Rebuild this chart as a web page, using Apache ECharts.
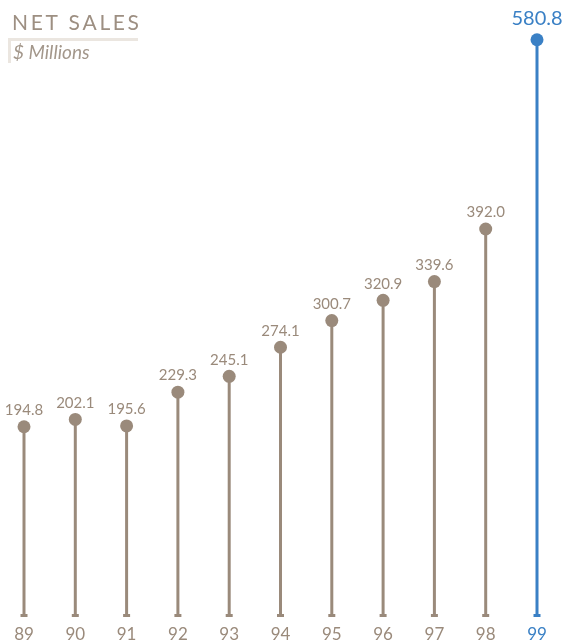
<!DOCTYPE html>
<html>
<head>
<meta charset="utf-8">
<style>
  html, body { margin: 0; padding: 0; background: #ffffff; }
  #chart { width: 567px; height: 643px; }
</style>
<script src="https://cdn.jsdelivr.net/npm/echarts@6/dist/echarts.min.js"></script>
</head>
<body>
<div id="chart"></div>
<script>
// Fiscal years and net sales ($ millions)
const years = ['89', '90', '91', '92', '93', '94', '95', '96', '97', '98', '99'];
const netSales = [194.8, 202.1, 195.6, 229.3, 245.1, 274.1, 300.7, 320.9, 339.6, 392.0, 580.8];
const highlightYear = '99';

const BROWN = '#9a8a7b';
const BLUE = '#3a80c5';
const AXIS_MIN = 6;
const AXIS_MAX = 600;
const FONT = 'Lato, "DejaVu Sans", sans-serif';

const chart = echarts.init(document.getElementById('chart'));

function colorFor(idx) {
  return years[idx] === highlightYear ? BLUE : BROWN;
}

chart.setOption({
  animation: false,
  backgroundColor: '#ffffff',
  grid: { left: 24, right: 30, top: 20.5, bottom: 27 },
  xAxis: {
    type: 'category',
    data: years,
    boundaryGap: false,
    axisLine: { show: false },
    axisTick: { show: false },
    splitLine: { show: false },
    axisLabel: {
      margin: 10,
      fontSize: 17,
      fontFamily: FONT,
      color: function (value) { return value === highlightYear ? BLUE : BROWN; }
    }
  },
  yAxis: {
    type: 'value',
    min: AXIS_MIN,
    max: AXIS_MAX,
    show: false
  },
  graphic: [
    { type: 'rect', left: 8, top: 38, shape: { width: 130, height: 3 }, style: { fill: '#ebe6e0' } },
    { type: 'rect', left: 8, top: 38, shape: { width: 3, height: 25 }, style: { fill: '#ebe6e0' } },
    {
      type: 'text', left: 12, top: 13,
      style: {
        text: 'N\u2009E\u2009T  S\u2009A\u2009L\u2009E\u2009S',
        fill: '#9d8f82',
        font: '21px ' + FONT
      }
    },
    {
      type: 'text', left: 13, top: 43,
      style: {
        text: '$ Millions',
        fill: '#a3978b',
        font: 'italic 19px ' + FONT
      }
    }
  ],
  series: [{
    type: 'custom',
    data: netSales.map((v, i) => [i, v]),
    renderItem: function (params, api) {
      const idx = api.value(0);
      const val = api.value(1);
      const top = api.coord([idx, val]);
      const base = api.coord([idx, AXIS_MIN]);
      const c = colorFor(idx);
      const isHi = years[idx] === highlightYear;
      return {
        type: 'group',
        children: [
          {
            type: 'line',
            shape: { x1: top[0], y1: top[1], x2: base[0], y2: base[1] },
            style: { stroke: c, lineWidth: 3 }
          },
          {
            type: 'rect',
            shape: { x: base[0] - 3.5, y: base[1] - 2, width: 7, height: 3 },
            style: { fill: c }
          },
          {
            type: 'circle',
            shape: { cx: top[0], cy: top[1], r: 6.5 },
            style: { fill: c }
          },
          {
            type: 'text',
            x: top[0],
            y: top[1] - (isHi ? 11 : 9),
            style: {
              text: val.toFixed(1),
              fill: c,
              font: (isHi ? '20px ' : '15px ') + FONT,
              align: 'center',
              verticalAlign: 'bottom'
            }
          }
        ]
      };
    }
  }]
});
</script>
</body>
</html>
